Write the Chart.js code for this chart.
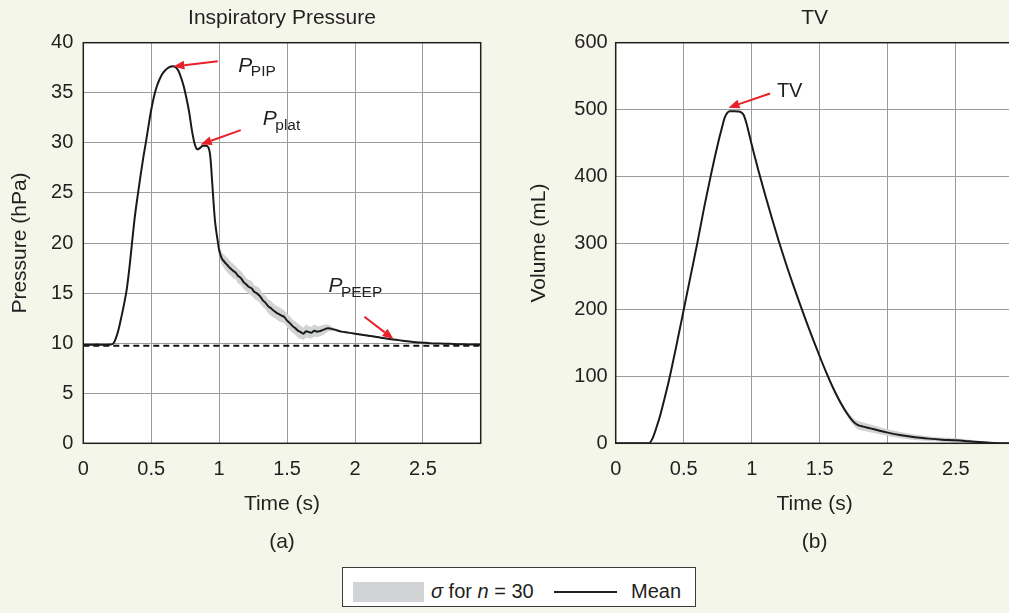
<!DOCTYPE html>
<html><head><meta charset="utf-8">
<script src="https://cdn.jsdelivr.net/npm/chart.js@4.4.1/dist/chart.umd.min.js"></script>
<style>
html,body{margin:0;padding:0;overflow:hidden;background:#f5f6ea;width:1009px;height:613px;}
#wrap{position:relative;width:1009px;height:613px;overflow:hidden;}
canvas{position:absolute;top:0;}
#cA{left:0}
#cB{left:510px}
#legend{position:absolute;left:342px;top:567px;width:352px;height:38px;background:#fff;border:1px solid #3a3a3a;font-family:'Liberation Sans',Arial,sans-serif;font-size:20px;line-height:1;color:#231f20;}
#legend .sw{position:absolute;left:10px;top:14px;width:71px;height:20px;background:#d1d3d4;}
#legend .t1{position:absolute;left:88px;top:13px;white-space:nowrap;}
#legend .ln{position:absolute;left:211px;top:23px;width:63px;height:2px;background:#231f20;}
#legend .t2{position:absolute;left:288px;top:13px;white-space:nowrap;}
</style>
</head><body>
<div id="wrap">
<canvas id="cA" width="500" height="566"></canvas>
<canvas id="cB" width="505" height="566"></canvas>
<div id="legend"><div class="sw"></div><div class="t1"><i>σ</i> for <i>n</i> = 30</div><div class="ln"></div><div class="t2">Mean</div></div>
</div>
<script>
// ---------- DATA ----------
const xTicks = [0, 0.5, 1, 1.5, 2, 2.5];
const pressureTicks = [0, 5, 10, 15, 20, 25, 30, 35, 40];
const volumeTicks = [0, 100, 200, 300, 400, 500, 600];
const timeMax = 2.925;
const peepLevel = 9.75;

const tP = [0,0.05,0.10,0.15,0.20,0.22,0.24,0.26,0.28,0.30,0.32,0.34,0.36,0.38,0.40,0.42,0.44,0.46,0.48,0.50,
  0.52,0.54,0.56,0.58,0.60,0.62,0.64,0.66,0.68,0.70,0.72,0.74,0.76,0.78,0.80,0.82,0.84,0.86,0.88,0.90,
  0.92,0.935,0.95,0.96,0.97,0.985,1.00,1.015,1.04,1.06,1.08,1.10,1.12,1.14,1.16,1.18,1.20,1.22,1.24,1.26,
  1.28,1.30,1.32,1.34,1.36,1.38,1.40,1.42,1.44,1.46,1.48,1.50,1.52,1.54,1.56,1.58,1.60,1.62,1.64,1.66,
  1.68,1.70,1.72,1.74,1.76,1.78,1.80,1.82,1.85,1.90,1.95,2.00,2.05,2.10,2.15,2.20,2.25,2.30,2.35,2.40,
  2.45,2.50,2.55,2.60,2.65,2.70,2.75,2.80,2.85,2.925];
const pMean = [9.85,9.84,9.86,9.84,9.86,9.95,10.5,11.4,12.6,13.9,15.4,17.6,20.2,22.7,24.7,26.6,28.4,30.0,31.7,33.3,
  34.6,35.6,36.3,36.85,37.2,37.45,37.6,37.65,37.55,37.2,36.5,35.6,34.4,33.0,31.2,29.9,29.35,29.5,29.7,29.7,
  29.55,28.6,25.8,23.8,22.1,20.6,19.3,18.6,18.1,17.8,17.5,17.25,17.05,16.7,16.5,16.1,15.85,15.6,15.45,15.1,
  14.95,14.7,14.3,14.05,13.7,13.5,13.25,13.05,12.9,12.75,12.6,12.25,12.0,11.7,11.5,11.25,11.1,10.95,11.2,11.1,
  11.05,11.25,11.15,11.2,11.3,11.4,11.5,11.45,11.35,11.15,11.05,10.95,10.85,10.75,10.65,10.52,10.42,10.33,10.25,10.17,
  10.1,10.05,10.0,9.97,9.95,9.93,9.9,9.88,9.87,9.85];
const pSigma = [0.05,0.05,0.05,0.05,0.05,0.06,0.08,0.1,0.1,0.1,0.1,0.1,0.1,0.1,0.1,0.1,0.1,0.1,0.1,0.1,
  0.1,0.1,0.1,0.1,0.1,0.1,0.1,0.1,0.1,0.1,0.1,0.1,0.1,0.1,0.1,0.1,0.1,0.1,0.1,0.1,
  0.1,0.15,0.2,0.25,0.3,0.4,0.5,0.6,0.7,0.75,0.7,0.72,0.68,0.74,0.7,0.72,0.66,0.7,0.74,0.68,
  0.7,0.72,0.66,0.7,0.68,0.74,0.7,0.66,0.72,0.7,0.65,0.68,0.7,0.64,0.68,0.7,0.66,0.62,0.66,0.6,
  0.58,0.6,0.55,0.52,0.5,0.45,0.35,0.25,0.15,0.1,0.09,0.08,0.08,0.08,0.07,0.07,0.07,0.06,0.06,0.06,
  0.06,0.05,0.05,0.05,0.05,0.05,0.05,0.05,0.05,0.05];

const tV = [0,0.10,0.20,0.245,0.27,0.30,0.33,0.36,0.39,0.42,0.45,0.48,0.50,0.55,0.60,0.65,0.70,0.73,0.76,0.78,
  0.80,0.82,0.84,0.87,0.90,0.92,0.94,0.96,0.98,1.00,1.05,1.10,1.15,1.20,1.25,1.30,1.35,1.40,1.45,1.50,
  1.55,1.60,1.65,1.70,1.74,1.77,1.79,1.82,1.86,1.90,2.00,2.10,2.20,2.30,2.40,2.50,2.60,2.70,2.78,2.85,2.925];
const vMean = [0,0,0,0,7,24,44,68,93,121,150,180,200,250,300,353,402,430,456,472,
  487,495,497.5,497.5,497,496,492,480,464,447,408,371,336,302,270,240,211,183,156,130,
  105,82,62,45,34,28.5,26.5,25,23,21,16,12,9,7,5.5,4.5,3,1.5,0.5,0,0];
const vSigma = [0,0,0,0,0.5,0.5,0.5,0.5,0.5,0.5,0.5,0.5,0.5,0.5,0.5,0.5,0.5,0.5,0.5,0.5,
  0.5,0.5,0.5,0.5,0.5,0.5,0.5,0.5,0.5,0.5,0.5,0.5,0.5,0.5,0.8,1,1.2,1.4,1.6,2,
  2.5,3,3.5,4,5,6,6.5,6.3,6,5.5,5,4.5,4,3.5,3,3,2.5,1.5,1,0.5,0.3];

// ---------- ANNOTATIONS (data coordinates) ----------
const notesA = [
  {label:'P', sub:'PIP', lx:1.141, ly:37.09, ax:0.99, ay:38.15, tx:0.663, ty:37.63},
  {label:'P', sub:'plat', lx:1.321, ly:31.77, ax:1.159, ay:31.27, tx:0.864, ty:29.84},
  {label:'P', sub:'PEEP', lx:1.804, ly:15.07, ax:2.069, ay:12.63, tx:2.283, ty:10.41}
];
const notesB = [
  {label:'TV', sub:'', plain:true, lx:1.185, ly:519, ax:1.135, ay:524, tx:0.829, ty:502.7}
];

// ---------- RENDERING ----------
const FONT = "'Liberation Sans', Arial, Helvetica, sans-serif";
const TXT = '#231f20';
const RED = '#e8202a';

function pts(xs, ys) { return xs.map((x, i) => ({x: x, y: ys[i]})); }
function band(xs, ys, s, sign) { return xs.map((x, i) => ({x: x, y: ys[i] + sign * s[i]})); }

function drawArrow(ctx, x1, y1, x2, y2) {
  const a = Math.atan2(y2 - y1, x2 - x1);
  const L = 11, W = 4.5;
  const bx = x2 - L * Math.cos(a), by = y2 - L * Math.sin(a);
  ctx.beginPath(); ctx.moveTo(x1, y1); ctx.lineTo(bx, by); ctx.stroke();
  ctx.beginPath(); ctx.moveTo(x2, y2);
  ctx.lineTo(bx + W * Math.sin(a), by - W * Math.cos(a));
  ctx.lineTo(bx - W * Math.sin(a), by + W * Math.cos(a));
  ctx.closePath(); ctx.fill();
}

const framePlugin = {
  id: 'frame',
  beforeDraw(chart) {
    const {ctx, chartArea: c} = chart;
    ctx.save(); ctx.fillStyle = '#ffffff';
    ctx.fillRect(c.left, c.top, c.right - c.left, c.bottom - c.top);
    ctx.restore();
  },
  afterDatasetsDraw(chart, args, opts) {
    const {ctx, chartArea: c, scales} = chart;
    ctx.save();
    ctx.strokeStyle = TXT; ctx.lineWidth = 1.5;
    ctx.strokeRect(c.left, c.top, c.right - c.left, c.bottom - c.top);
    const notes = opts.notes || [];
    notes.forEach(n => {
      ctx.strokeStyle = RED; ctx.fillStyle = RED; ctx.lineWidth = 2;
      drawArrow(ctx, scales.x.getPixelForValue(n.ax), scales.y.getPixelForValue(n.ay),
                     scales.x.getPixelForValue(n.tx), scales.y.getPixelForValue(n.ty));
      const lx = scales.x.getPixelForValue(n.lx), ly = scales.y.getPixelForValue(n.ly);
      ctx.fillStyle = TXT; ctx.textBaseline = 'alphabetic'; ctx.textAlign = 'left';
      if (n.plain) {
        ctx.font = '20px ' + FONT;
        ctx.fillText(n.label, lx, ly);
      } else {
        ctx.font = 'italic 21px ' + FONT;
        ctx.fillText(n.label, lx, ly);
        const w = ctx.measureText(n.label).width;
        ctx.font = '15.5px ' + FONT;
        ctx.fillText(n.sub, lx + w - 1.5, ly + 4.5);
      }
    });
    ctx.restore();
  }
};

function makeChart(id, cfg) {
  return new Chart(document.getElementById(id), {
    type: 'line',
    data: {
      datasets: [
        {label: 'Mean', data: pts(cfg.t, cfg.mean), borderColor: '#1a1a1a', borderWidth: 2, pointRadius: 0,
         fill: false, cubicInterpolationMode: 'monotone'},
        ...(cfg.dashed !== undefined ? [{label: 'PEEP level', data: [{x: 0, y: cfg.dashed}, {x: timeMax, y: cfg.dashed}],
         borderColor: '#111', borderWidth: 2, borderDash: [6, 4], pointRadius: 0, fill: false}] : []),
        {label: 'upper', data: band(cfg.t, cfg.mean, cfg.sigma, 1), borderWidth: 0, borderColor: 'rgba(0,0,0,0)',
         pointRadius: 0, fill: '+1', backgroundColor: '#d1d3d4', cubicInterpolationMode: 'monotone'},
        {label: 'lower', data: band(cfg.t, cfg.mean, cfg.sigma, -1), borderWidth: 0, borderColor: 'rgba(0,0,0,0)',
         pointRadius: 0, fill: false, cubicInterpolationMode: 'monotone'}
      ]
    },
    options: {
      responsive: false, animation: false, devicePixelRatio: 1,
      layout: {padding: {left: 0, right: cfg.padRight, top: 0, bottom: 0}},
      plugins: {
        legend: {display: false}, tooltip: {enabled: false},
        title: {display: true, text: cfg.title, fullSize: false, color: TXT,
                font: {family: FONT, size: 21, weight: 'normal', lineHeight: 1.2},
                padding: {top: 5.6, bottom: 11.9}},
        frame: {notes: cfg.notes}
      },
      scales: {
        x: {type: 'linear', min: 0, max: timeMax,
            afterBuildTicks: s => { s.ticks = xTicks.map(v => ({value: v})); },
            afterFit: s => { s.height = 566 - 443.3; },
            grid: {color: '#9b9b9b', lineWidth: 1, drawTicks: false},
            border: {display: false},
            ticks: {color: TXT, padding: 14, font: {family: FONT, size: 20}, callback: v => String(v)},
            title: {display: true, text: ['Time (s)', cfg.tag], color: TXT,
                    font: {family: FONT, size: 21, lineHeight: '38.5px'}, padding: {top: 0, bottom: 4.45}}},
        y: {type: 'linear', min: cfg.yMin, max: cfg.yMax,
            afterBuildTicks: s => { s.ticks = cfg.yTicks.map(v => ({value: v})); },
            afterFit: s => { s.width = cfg.yWidth; },
            grid: {color: '#9b9b9b', lineWidth: 1, drawTicks: false},
            border: {display: false},
            ticks: {color: TXT, padding: cfg.tickPad, font: {family: FONT, size: 20}, callback: v => String(v)},
            title: {display: true, text: cfg.yTitle, color: TXT,
                    font: {family: FONT, size: 21, lineHeight: 1.2}, padding: {top: cfg.yTitlePad, bottom: 0}}}
      }
    },
    plugins: [framePlugin]
  });
}

makeChart('cA', {t: tP, mean: pMean, sigma: pSigma, dashed: peepLevel, title: 'Inspiratory Pressure',
  tag: '(a)', yMin: 0, yMax: 40, yTicks: pressureTicks, yWidth: 83.3, tickPad: 10, yTitle: 'Pressure (hPa)',
  yTitlePad: 7.9, padRight: 19.3, notes: notesA});
makeChart('cB', {t: tV, mean: vMean, sigma: vSigma, title: 'TV',
  tag: '(b)', yMin: 0, yMax: 600, yTicks: volumeTicks, yWidth: 105.7, tickPad: 8, yTitle: 'Volume (mL)',
  yTitlePad: 16.2, padRight: 1.4, notes: notesB});
</script>
</body></html>
